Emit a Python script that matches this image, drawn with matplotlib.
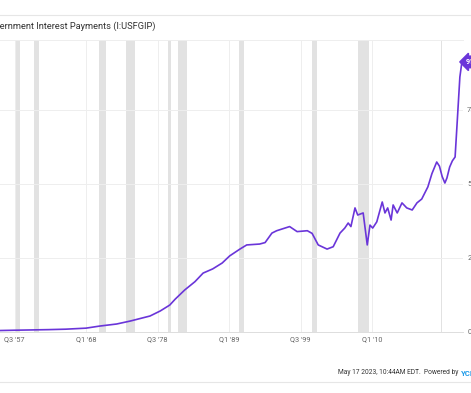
import numpy as np
import matplotlib.pyplot as plt

plt.rcParams['font.family'] = ['Roboto', 'DejaVu Sans']

# I:USFGIP, billions USD (annual rate)
years = [1955.4, 1957.5, 1960.0, 1962.5, 1965.0, 1968.0, 1970.0, 1972.5, 1974.5,
         1977.4, 1978.9, 1980.3, 1981.1, 1982.5, 1984.0, 1985.2, 1986.6, 1988.0,
         1989.1, 1990.6, 1991.6, 1993.5, 1994.3, 1995.3, 1996.0, 1997.9, 1999.0,
         2000.5, 2001.2, 2002.1, 2003.4, 2004.3, 2005.3, 2006.0, 2006.5, 2006.9,
         2007.5, 2007.9, 2008.7, 2009.3, 2009.7, 2010.1, 2010.7, 2011.5, 2011.9,
         2012.3, 2012.8, 2013.1, 2013.7, 2014.4, 2015.1, 2015.9, 2016.6, 2017.3,
         2018.2, 2018.8, 2019.5, 2019.9, 2020.3, 2020.7, 2021.0, 2021.4, 2021.8,
         2022.2, 2022.5, 2022.9, 2023.2]
values = [5, 6, 7, 8, 9.5, 13, 20, 27, 37,
          54, 71, 91, 111, 142, 170, 199, 213, 233,
          257, 280, 294, 297, 302, 334, 342, 356, 339,
          342, 333, 294, 280, 288, 334, 351, 368, 356,
          419, 395, 402, 294, 361, 351, 372, 439, 402,
          419, 378, 429, 402, 436, 419, 412, 436, 449,
          490, 535, 574, 560, 525, 503, 520, 557, 578,
          591, 706, 861, 912]

# NBER recessions
rec_start = [1957.6, 1960.3, 1969.9, 1973.9, 1980.0, 1981.5, 1990.5, 2001.2, 2007.9, 2020.1]
rec_end = [1958.3, 1961.1, 1970.9, 1975.2, 1980.5, 1982.9, 1991.2, 2001.9, 2009.5, 2020.3]

tick_pos = [1957.5, 1968.0, 1978.5, 1989.0, 1999.5, 2010.0]
tick_lab = ["Q3 '57", "Q1 '68", "Q3 '78", "Q1 '89", "Q3 '99", "Q1 '10"]
ytick_pos = [0, 250, 500, 750]
ytick_lab = ["0.00", "250.0B", "500.0B", "750.0B"]

purple = '#6a35d9'
grey = '#666666'

fig = plt.figure(figsize=(4.71, 3.93), dpi=100)
ax = fig.add_axes([0, 1 - 332/393, 463/471, 292/393])

for a, b in zip(rec_start, rec_end):
    ax.axvspan(a, b, color='#e2e2e2', lw=0, zorder=0)

ax.plot(years, values, color=purple, lw=1.2, zorder=3)

ax.set_xlim(1955.37, 2023.36)
ax.set_ylim(0, 986)
ax.set_xticks(tick_pos)
ax.set_xticklabels(tick_lab, fontsize=5.3, color=grey)
ax.yaxis.tick_right()
ax.set_yticks(ytick_pos)
ax.set_yticklabels(ytick_lab, fontsize=5.3, color=grey)
ax.tick_params(length=0, pad=3)
ax.grid(True, color='#eeeeee', lw=0.7, zorder=1)

for s in ['left', 'right']:
    ax.spines[s].set_visible(False)
ax.spines['top'].set_color('#eeeeee')
ax.spines['top'].set_linewidth(0.7)
ax.spines['bottom'].set_color('#dddddd')
ax.spines['bottom'].set_linewidth(0.7)

# last value flag
ax.annotate(f"{values[-1]:.1f}B", xy=(years[-1], values[-1]), xytext=(3, 0),
            textcoords='offset points', fontsize=5.2, color='white',
            fontweight='bold', va='center', ha='left', annotation_clip=False,
            bbox=dict(boxstyle='larrow,pad=0.25', fc=purple, ec=purple))

fig.add_artist(plt.Line2D([0, 1], [1 - 15/393, 1 - 15/393], color='#e6e6e6', lw=0.8))
fig.text(155/471, 1 - 26/393, "US Government Interest Payments (I:USFGIP)",
         ha='right', va='center', fontsize=6.7, color='#333333')

fig.text(458/471, 1 - 373/393, "May 17 2023, 10:44AM EDT.  Powered by",
         ha='right', va='center', fontsize=4.8, color='#333333')
fig.text(461/471, 1 - 373/393, "YCHARTS", ha='left', va='center',
         fontsize=5.6, color='#1e9be9', fontweight='bold')
fig.add_artist(plt.Line2D([0, 1], [1 - 382/393, 1 - 382/393], color='#e6e6e6', lw=0.8))

fig.savefig('out.png', dpi=100)
